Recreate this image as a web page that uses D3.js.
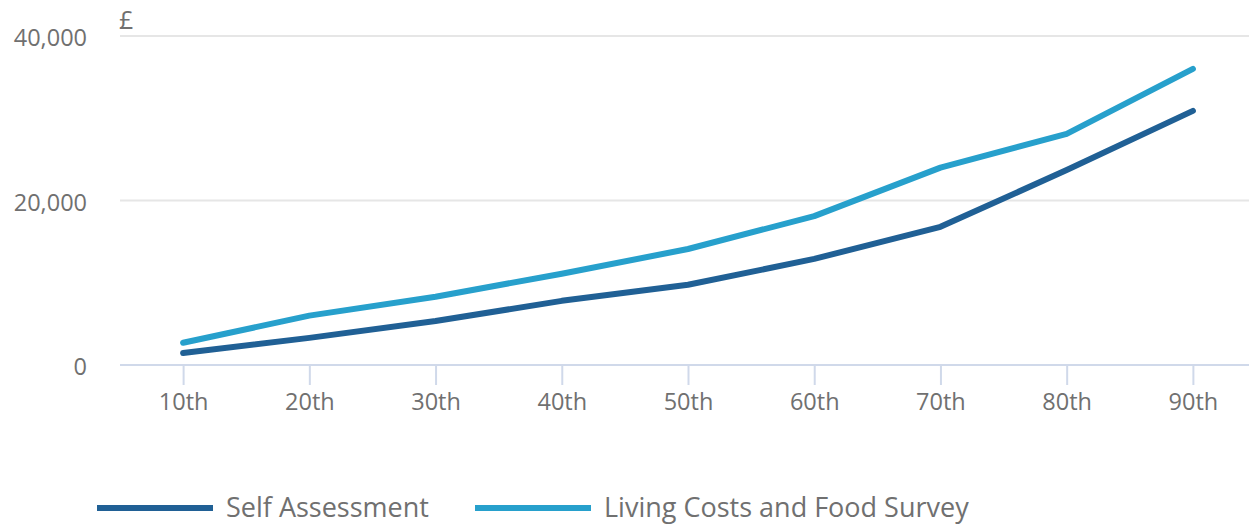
<!DOCTYPE html>
<html>
<head>
<meta charset="utf-8">
<script src="https://cdn.jsdelivr.net/npm/d3@7"></script>
<style>
  body { margin: 0; background: #fff; font-family: "Open Sans", sans-serif; }
  svg text { fill: #707070; }
</style>
</head>
<body>
<script>
// percentile categories along the x axis
var percentiles = ["10th", "20th", "30th", "40th", "50th", "60th", "70th", "80th", "90th"];
// income (£) at each percentile
var selfAssessment = [1450, 3300, 5350, 7800, 9750, 12900, 16800, 23700, 30900];
var lcfSurvey = [2700, 6000, 8300, 11100, 14100, 18100, 24000, 28100, 36000];
var yTicks = [0, 20000, 40000];

var series = [
  {name: "Self Assessment", values: selfAssessment, color: "#206095"},
  {name: "Living Costs and Food Survey", values: lcfSurvey, color: "#27a0cc"}
];

var width = 1249, height = 524;

var svg = d3.select("body").append("svg")
    .attr("width", width)
    .attr("height", height);

var x = d3.scalePoint()
    .domain(percentiles)
    .range([120, 1256])
    .padding(0.5);

var y = d3.scaleLinear()
    .domain([0, 40000])
    .range([365, 36]);

// horizontal gridlines
svg.append("g")
  .selectAll("line")
  .data(yTicks.filter(function(d) { return d > 0; }))
  .enter().append("line")
    .attr("x1", 120)
    .attr("x2", width)
    .attr("y1", function(d) { return y(d); })
    .attr("y2", function(d) { return y(d); })
    .attr("stroke", "#e6e6e6")
    .attr("stroke-width", 2);

// y labels
svg.append("g")
  .selectAll("text")
  .data(yTicks)
  .enter().append("text")
    .attr("x", 87)
    .attr("y", function(d) { return y(d) + 2; })
    .attr("dy", "0.35em")
    .attr("text-anchor", "end")
    .style("font-size", "23.5px")
    .text(function(d) { return d3.format(",")(d); });

svg.append("text")
    .attr("x", 119)
    .attr("y", 29)
    .style("font-size", "25px")
    .text("£");

// x axis
var xAxis = svg.append("g")
    .attr("transform", "translate(0," + y(0) + ")")
    .call(d3.axisBottom(x).tickSize(20).tickPadding(8));

xAxis.select(".domain")
    .attr("d", "M120,0H" + width)
    .attr("stroke", "#d0d9ea")
    .attr("stroke-width", 2);
xAxis.selectAll(".tick line")
    .attr("stroke", "#d0d9ea")
    .attr("stroke-width", 2);
xAxis.selectAll(".tick text")
    .style("font-size", "23.5px")
    .style("font-family", "Open Sans, sans-serif")
    .attr("fill", "#707070");

// lines
var line = d3.line()
    .x(function(d, i) { return x(percentiles[i]); })
    .y(function(d) { return y(d); });

svg.append("g")
  .selectAll("path")
  .data(series)
  .enter().append("path")
    .attr("d", function(d) { return line(d.values); })
    .attr("fill", "none")
    .attr("stroke", function(d) { return d.color; })
    .attr("stroke-width", 6)
    .attr("stroke-linecap", "round")
    .attr("stroke-linejoin", "round");

// legend
var legendX = [97, 475];
var leg = svg.append("g")
  .selectAll("g")
  .data(series)
  .enter().append("g")
    .attr("transform", function(d, i) { return "translate(" + legendX[i] + ",508)"; });

leg.append("line")
    .attr("x1", 0)
    .attr("x2", 116)
    .attr("stroke", function(d) { return d.color; })
    .attr("stroke-width", 6);

leg.append("text")
    .attr("x", 129)
    .attr("dy", "0.35em")
    .style("font-size", "27px")
    .text(function(d) { return d.name; });
</script>
</body>
</html>
